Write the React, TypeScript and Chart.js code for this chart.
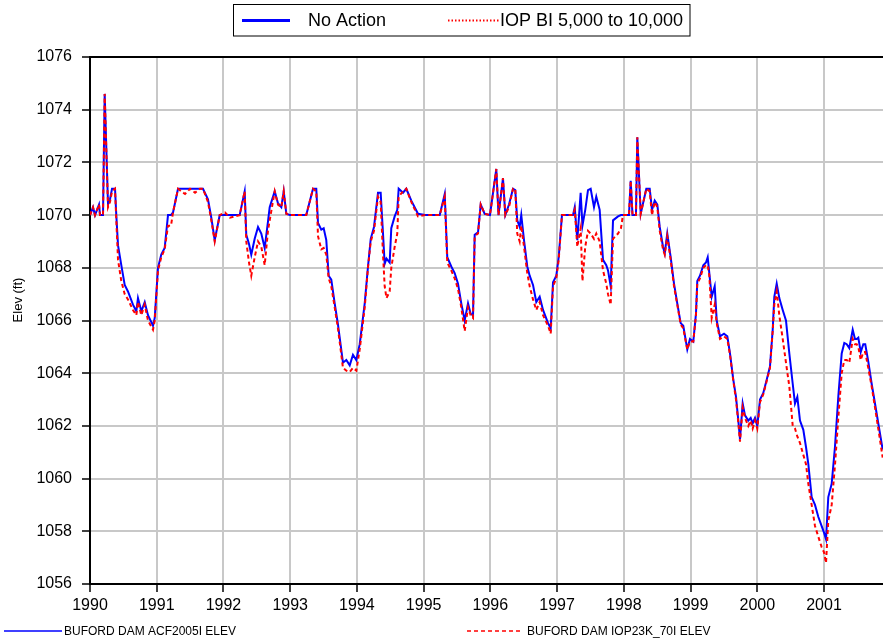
import React, { useEffect, useRef } from 'react';
import { Chart, registerables } from 'chart.js';

Chart.register(...registerables);

const FONT = '"Liberation Sans", Arial, Helvetica, sans-serif';

const yearTicks = [1990, 1991, 1992, 1993, 1994, 1995, 1996, 1997, 1998, 1999, 2000, 2001];
const elevTicks = [1056, 1058, 1060, 1062, 1064, 1066, 1068, 1070, 1072, 1074, 1076];
const xMin = 1990;
const xMax = 2001.884;

const topLegendLabels = ['No Action', 'IOP BI 5,000 to 10,000'];
const seriesNames = ['BUFORD DAM ACF2005I ELEV', 'BUFORD DAM IOP23K_70I ELEV'];
const yTitle = 'Elev (ft)';

const years = [
  1990.000, 1990.045, 1990.075, 1990.135, 1990.150, 1990.195, 1990.220, 1990.270, 1990.300, 1990.330, 1990.375, 1990.394, 1990.420, 1990.469, 1990.520, 1990.569, 1990.644, 1990.694, 1990.719, 1990.769, 1990.820, 1990.869, 1990.944, 1990.970,
  1991.019, 1991.068, 1991.119, 1991.169, 1991.214, 1991.244, 1991.319, 1991.424, 1991.499, 1991.574, 1991.648, 1991.693, 1991.768, 1991.818, 1991.869, 1991.944,
  1992.023, 1992.098, 1992.243, 1992.318, 1992.342, 1992.383, 1992.417, 1992.468, 1992.518, 1992.567, 1992.618, 1992.667, 1992.693, 1992.768, 1992.817, 1992.867, 1992.903, 1992.942, 1992.997,
  1993.241, 1993.342, 1993.391, 1993.417, 1993.466, 1993.502, 1993.541, 1993.577, 1993.616, 1993.667, 1993.716, 1993.791, 1993.841, 1993.892, 1993.941, 1993.991,
  1994.042, 1994.117, 1994.166, 1994.207, 1994.256, 1994.316, 1994.356, 1994.391, 1994.416, 1994.443, 1994.491, 1994.515, 1994.566, 1994.605, 1994.626, 1994.691, 1994.740, 1994.815, 1994.915,
  1995.020, 1995.241, 1995.316, 1995.354, 1995.414, 1995.465, 1995.515, 1995.564, 1995.615, 1995.665, 1995.705, 1995.740, 1995.765, 1995.815, 1995.855, 1995.915, 1995.994,
  1996.089, 1996.122, 1996.189, 1996.224, 1996.279, 1996.339, 1996.373, 1996.403, 1996.439, 1996.463, 1996.504, 1996.553, 1996.589, 1996.639, 1996.688, 1996.739, 1996.789, 1996.864, 1996.904, 1996.939, 1996.988,
  1997.024, 1997.073, 1997.238, 1997.264, 1997.303, 1997.353, 1997.380, 1997.422, 1997.463, 1997.503, 1997.553, 1997.587, 1997.638, 1997.688, 1997.737, 1997.763, 1997.803, 1997.838, 1997.913, 1997.957, 1997.987,
  1998.077, 1998.103, 1998.130, 1998.182, 1998.202, 1998.253, 1998.337, 1998.388, 1998.422, 1998.463, 1998.502, 1998.538, 1998.587, 1998.613, 1998.651, 1998.702, 1998.752, 1998.801, 1998.852, 1998.891, 1998.951, 1998.991,
  1999.041, 1999.081, 1999.101, 1999.141, 1999.191, 1999.231, 1999.257, 1999.281, 1999.317, 1999.362, 1999.392, 1999.441, 1999.501, 1999.551, 1999.591, 1999.641, 1999.681, 1999.716, 1999.741, 1999.781, 1999.816, 1999.865, 1999.901, 1999.931, 1999.966,
  2000.000, 2000.041, 2000.090, 2000.141, 2000.190, 2000.231, 2000.255, 2000.291, 2000.330, 2000.381, 2000.430, 2000.480, 2000.531, 2000.565, 2000.600, 2000.640, 2000.690, 2000.730, 2000.765, 2000.815, 2000.865, 2000.914, 2000.965,
  2001.000, 2001.030, 2001.064, 2001.115, 2001.164, 2001.214, 2001.265, 2001.304, 2001.340, 2001.379, 2001.430, 2001.464, 2001.490, 2001.514, 2001.550, 2001.589, 2001.618, 2001.663, 2001.714, 2001.764, 2001.813, 2001.879,
];

const noAction = [
  1070, 1070.3, 1070, 1070.4, 1070, 1070, 1074.6, 1070.4, 1070.6, 1071, 1071, 1070, 1068.85, 1068.1, 1067.35, 1067.1, 1066.6, 1066.35, 1066.85, 1066.35, 1066.7, 1066.2, 1065.8, 1066.1,
  1068.0, 1068.5, 1068.75, 1070, 1070, 1070.1, 1071, 1071, 1071, 1071, 1071, 1071, 1070.6, 1069.9, 1069.05, 1070,
  1070, 1070, 1070, 1070.9, 1069.25, 1068.9, 1068.5, 1069.1, 1069.55, 1069.3, 1068.75, 1069.75, 1070.3, 1070.9, 1070.45, 1070.3, 1070.9, 1070.05, 1070,
  1070, 1071, 1071, 1069.7, 1069.45, 1069.5, 1069.05, 1067.7, 1067.55, 1066.65, 1065.85, 1064.4, 1064.5, 1064.3, 1064.7, 1064.5,
  1065.1, 1066.65, 1068.05, 1069.1, 1069.55, 1070.85, 1070.85, 1069.3, 1068.15, 1068.35, 1068.2, 1069.5, 1069.95, 1070.2, 1071.0, 1070.85, 1071.0, 1070.55, 1070.05,
  1070, 1070, 1070.8, 1068.4, 1068.05, 1067.8, 1067.4, 1066.65, 1066.0, 1066.65, 1066.25, 1066.2, 1069.25, 1069.35, 1070.4, 1070.05, 1070,
  1071.75, 1070, 1071.4, 1070, 1070.4, 1071.0, 1070.95, 1069.8, 1069.55, 1070, 1069.05, 1068.05, 1067.7, 1067.35, 1066.7, 1066.9, 1066.4, 1065.9, 1065.7, 1067.45, 1067.7,
  1068.4, 1070, 1070, 1070.3, 1069.05, 1070.85, 1069.6, 1070.2, 1070.95, 1071.0, 1070.3, 1070.7, 1070.2, 1068.3, 1068.1, 1067.9, 1067.3, 1069.8, 1069.95, 1070, 1070,
  1070, 1071.3, 1070, 1070, 1072.95, 1070.05, 1071.0, 1071.0, 1070.2, 1070.55, 1070.4, 1069.55, 1068.8, 1068.55, 1069.3, 1068.4, 1067.4, 1066.65, 1065.9, 1065.8, 1064.9, 1065.3,
  1065.2, 1066.25, 1067.5, 1067.7, 1068.1, 1068.2, 1068.4, 1067.8, 1066.9, 1067.3, 1066.0, 1065.4, 1065.5, 1065.4, 1064.75, 1063.75, 1063.1, 1062.2, 1061.5, 1062.85, 1062.4, 1062.2, 1062.3, 1062.1, 1062.3,
  1062.0, 1063.0, 1063.25, 1063.75, 1064.25, 1065.65, 1066.9, 1067.4, 1066.85, 1066.4, 1066.0, 1064.75, 1063.6, 1062.85, 1063.1, 1062.2, 1061.85, 1061.2, 1060.55, 1059.3, 1059.0, 1058.55, 1058.2,
  1057.95, 1057.7, 1059.3, 1059.8, 1061.2, 1063.1, 1064.75, 1065.15, 1065.1, 1064.95, 1065.65, 1065.3, 1065.3, 1065.35, 1064.8, 1065.1, 1065.1, 1064.45, 1063.6, 1062.85, 1062.1, 1061.1,
];

const iopBi = [
  1070, 1070.3, 1070, 1070.4, 1070, 1070, 1074.6, 1070.3, 1070.5, 1070.9, 1071, 1069.8, 1068.3, 1067.5, 1067.0, 1066.8, 1066.4, 1066.2, 1066.7, 1066.2, 1066.6, 1066.0, 1065.65, 1066.0,
  1067.9, 1068.4, 1068.7, 1069.6, 1069.6, 1070.1, 1071, 1070.8, 1071, 1070.85, 1071, 1071, 1070.5, 1069.8, 1069.0, 1070,
  1070.1, 1069.9, 1070, 1070.9, 1069.0, 1068.2, 1067.7, 1068.4, 1069.0, 1068.8, 1068.1, 1069.4, 1069.8, 1070.9, 1070.4, 1070.3, 1070.9, 1070.05, 1070,
  1070, 1071, 1070.9, 1069.2, 1068.7, 1068.75, 1068.5, 1067.6, 1067.3, 1066.5, 1065.7, 1064.2, 1064.1, 1064.05, 1064.2, 1064.1,
  1064.9, 1066.5, 1068.0, 1069.0, 1069.4, 1070.7, 1070.5, 1068.5, 1067.3, 1066.85, 1067.1, 1068.0, 1068.8, 1069.3, 1070.7, 1070.9, 1071.0, 1070.5, 1069.95,
  1070, 1070, 1070.7, 1068.2, 1067.9, 1067.6, 1067.2, 1066.5, 1065.6, 1066.5, 1066.2, 1066.1, 1069.2, 1069.3, 1070.4, 1070.05, 1070,
  1071.75, 1070, 1071.4, 1070, 1070.3, 1071.0, 1071.0, 1069.3, 1069.0, 1069.6, 1068.8, 1067.8, 1067.3, 1066.8, 1066.4, 1066.7, 1066.2, 1065.8, 1065.5, 1067.3, 1067.6,
  1068.3, 1070, 1070, 1070.2, 1068.8, 1069.5, 1067.5, 1068.8, 1069.4, 1069.3, 1069.1, 1069.3, 1069.0, 1067.9, 1067.4, 1067.0, 1066.6, 1069.1, 1069.3, 1069.5, 1070,
  1070, 1071.3, 1070, 1070, 1072.95, 1070.05, 1071.0, 1070.9, 1070.0, 1070.5, 1070.3, 1069.4, 1068.7, 1068.5, 1069.2, 1068.3, 1067.3, 1066.6, 1065.85, 1065.7, 1064.9, 1065.2,
  1065.2, 1066.2, 1067.4, 1067.6, 1068.0, 1068.1, 1068.1, 1067.7, 1066.1, 1066.6, 1065.9, 1065.3, 1065.4, 1065.3, 1064.7, 1063.7, 1063.0, 1062.1, 1061.4, 1062.7, 1062.3, 1062.0, 1062.2, 1061.9, 1062.2,
  1061.9, 1062.9, 1063.2, 1063.7, 1064.2, 1065.6, 1066.6, 1067.1, 1066.2, 1065.3, 1064.4, 1063.5, 1062.0, 1061.9, 1061.6, 1061.35, 1060.9, 1060.55, 1059.8, 1059.0, 1058.2, 1057.8, 1057.4,
  1057.2, 1056.8, 1058.4, 1059.0, 1060.5, 1062.3, 1064.0, 1064.5, 1064.5, 1064.4, 1065.3, 1065.1, 1065.1, 1065.0, 1064.5, 1064.8, 1064.8, 1064.2, 1063.5, 1062.7, 1061.9, 1060.8,
];

const BLUE = '#0000ff';
const RED = '#ff0000';

const overlayPlugin = {
  id: 'overlay',
  afterDraw(chart: any) {
    const ctx = chart.ctx as CanvasRenderingContext2D;
    const { left, right, top } = chart.chartArea;
    ctx.save();
    // top frame line
    ctx.strokeStyle = '#000';
    ctx.lineWidth = 2;
    ctx.beginPath();
    ctx.moveTo(left - 1, top);
    ctx.lineTo(right, top);
    ctx.stroke();

    // y-axis title
    ctx.save();
    ctx.translate(18, 300);
    ctx.rotate(-Math.PI / 2);
    ctx.fillStyle = '#000';
    ctx.font = `13px ${FONT}`;
    ctx.textAlign = 'center';
    ctx.textBaseline = 'middle';
    ctx.fillText(yTitle, 0, 0);
    ctx.restore();

    // top legend box
    ctx.lineWidth = 1;
    ctx.strokeStyle = '#000';
    ctx.strokeRect(233.5, 4.5, 456.5, 31.5);
    ctx.beginPath();
    ctx.strokeStyle = BLUE;
    ctx.lineWidth = 3;
    ctx.moveTo(242, 20.5);
    ctx.lineTo(290, 20.5);
    ctx.stroke();
    ctx.beginPath();
    ctx.strokeStyle = RED;
    ctx.lineWidth = 2;
    ctx.setLineDash([1.5, 2]);
    ctx.moveTo(448, 20.5);
    ctx.lineTo(499, 20.5);
    ctx.stroke();
    ctx.setLineDash([]);
    ctx.fillStyle = '#000';
    ctx.font = `18px ${FONT}`;
    ctx.textAlign = 'left';
    ctx.textBaseline = 'middle';
    ctx.fillText(topLegendLabels[0], 308, 21);
    ctx.fillText(topLegendLabels[1], 500, 21);

    // bottom legend
    ctx.beginPath();
    ctx.strokeStyle = BLUE;
    ctx.lineWidth = 1.5;
    ctx.moveTo(4, 631);
    ctx.lineTo(62, 631);
    ctx.stroke();
    ctx.beginPath();
    ctx.strokeStyle = RED;
    ctx.setLineDash([4, 3]);
    ctx.moveTo(467, 631);
    ctx.lineTo(521, 631);
    ctx.stroke();
    ctx.setLineDash([]);
    ctx.font = `12px ${FONT}`;
    ctx.fillStyle = '#000';
    ctx.fillText(seriesNames[0], 64, 631.5);
    ctx.fillText(seriesNames[1], 527, 631.5);
    ctx.restore();
  },
};

export default function App() {
  const ref = useRef<HTMLCanvasElement>(null);
  useEffect(() => {
    if (!ref.current) return;
    const chart = new Chart(ref.current, {
      type: 'line',
      data: {
        datasets: [
          {
            label: seriesNames[0],
            data: years.map((x, i) => ({ x, y: noAction[i] })),
            borderColor: BLUE,
            borderWidth: 2,
            pointRadius: 0,
            tension: 0,
            fill: false,
            order: 2,
          },
          {
            label: seriesNames[1],
            data: years.map((x, i) => ({ x, y: iopBi[i] })),
            borderColor: RED,
            borderWidth: 2,
            borderDash: [4, 3],
            pointRadius: 0,
            tension: 0,
            fill: false,
            order: 1,
          },
        ],
      },
      options: {
        responsive: false,
        animation: false,
        devicePixelRatio: 1,
        layout: { padding: { top: 57, left: 0, right: 0, bottom: 0 } },
        plugins: {
          legend: { display: false },
          tooltip: { enabled: false },
          title: { display: false },
        },
        scales: {
          x: {
            type: 'linear',
            position: 'bottom',
            min: xMin,
            max: xMax,
            afterBuildTicks: (s: any) => {
              s.ticks = yearTicks.map((v) => ({ value: v }));
            },
            afterFit: (s: any) => {
              s.height = 58;
            },
            ticks: {
              callback: (v: any) => String(v),
              font: { family: FONT, size: 16 },
              color: '#000',
              padding: 4,
              maxRotation: 0,
              autoSkip: false,
            },
            grid: {
              color: '#c8c8c8',
              lineWidth: 2,
              tickColor: '#000',
              tickLength: 8,
              tickWidth: 1.5,
            },
            border: { color: '#000', width: 2 },
          },
          y: {
            type: 'linear',
            min: 1056,
            max: 1076,
            afterBuildTicks: (s: any) => {
              s.ticks = elevTicks.map((v) => ({ value: v }));
            },
            afterFit: (s: any) => {
              s.width = 90;
            },
            ticks: {
              callback: (v: any) => String(v),
              font: { family: FONT, size: 16 },
              color: '#000',
              padding: 10,
              autoSkip: false,
            },
            grid: {
              color: '#c8c8c8',
              lineWidth: 2,
              tickColor: '#000',
              tickLength: 8,
              tickWidth: 1.5,
            },
            border: { color: '#000', width: 2 },
          },
        },
      },
      plugins: [overlayPlugin],
    });
    return () => chart.destroy();
  }, []);
  return (
    <div style={{ position: 'absolute', left: 0, top: 0, width: 883, height: 642, background: '#fff' }}>
      <canvas ref={ref} width={883} height={642} style={{ display: 'block', width: 883, height: 642 }} />
    </div>
  );
}
